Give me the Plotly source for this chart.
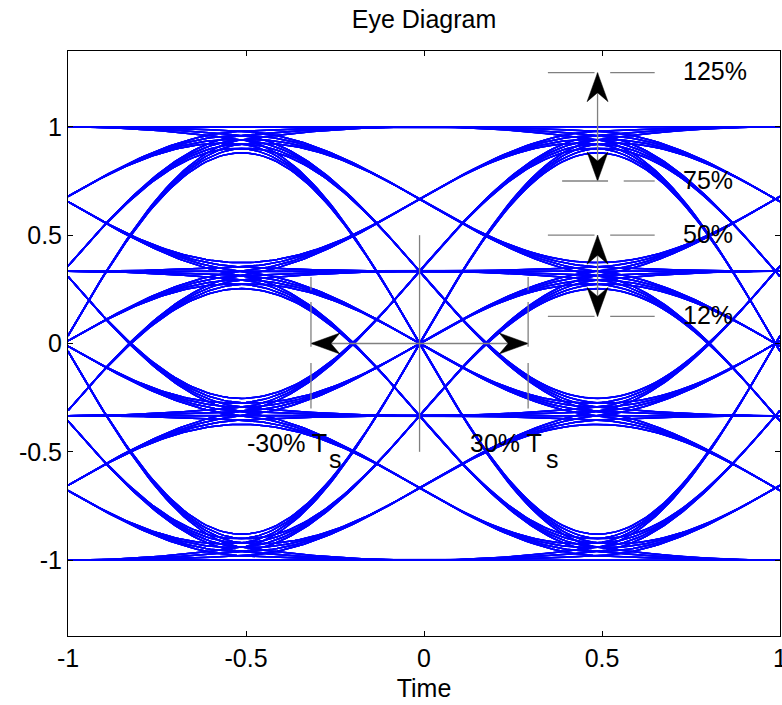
import itertools
import numpy as np
import plotly.graph_objects as go

# ---------------- data ----------------
levels = [-1.0, -1.0 / 3.0, 1.0 / 3.0, 1.0]          # 4-PAM symbol levels
symbol_offsets = [-1.5, -0.5, 0.5, 1.5]              # symbols that shape one 2-symbol trace
timing_offset = -0.0125                              # eye centre (crossing) position
isi_mix = 0.24                                       # share of the wider (ISI) pulse
x_tick_vals = [-1, -0.5, 0, 0.5, 1]
x_tick_text = ["-1", "-0.5", "0", "0.5", "1"]
y_tick_vals = [-1, -0.5, 0, 0.5, 1]
y_tick_text = ["-1", "-0.5", "0", "0.5", "1"]
level_marks = [1.25, 0.75, 0.5, 0.125]
level_texts = ["125%", "75%", "50%", "12%"]


def pulse(t):
    t = np.abs(t)
    c = np.where(t <= 1, 0.5 * (1 + np.cos(np.pi * np.minimum(t, 1))), 0.0)
    b = np.where(t <= 0.5, 0.75 - t ** 2, np.where(t <= 1.5, 0.5 * (1.5 - t) ** 2, 0.0))
    return (1 - isi_mix) * c + isi_mix * b


tau = np.linspace(-1, 1, 161)
xs, ys = [], []
for combo in itertools.product(levels, repeat=len(symbol_offsets)):
    s = np.zeros_like(tau)
    for a, off in zip(combo, symbol_offsets):
        s += a * pulse(tau - (timing_offset + off))
    xs.extend(tau.tolist() + [None])
    ys.extend(s.tolist() + [None])

fig = go.Figure()
fig.add_trace(go.Scatter(x=xs, y=ys, mode="lines",
                         line=dict(color="#0000FF", width=1.5),
                         hoverinfo="skip", showlegend=False))

# ---------------- layout geometry ----------------
W, H = 782, 705
ML, MR, MT, MB = 68, 2, 51, 69
YR = [-1.35, 1.35]
sx = (W - ML - MR) / 2.0
sy = (H - MT - MB) / (YR[1] - YR[0])

GRAY = "#808080"
shapes = []


def seg(x0, y0, x1, y1, w=1.3):
    shapes.append(dict(type="line", xref="x", yref="y", x0=x0, y0=y0, x1=x1, y1=y1,
                       line=dict(color=GRAY, width=w)))


def head(xt, yt, dx, dy, L=29, Wd=10.5, N=9):
    # dx, dy: unit direction in pixel space (dy positive = up)
    nx, ny = -dy, dx
    def P(a, b):
        return (xt + a / sx, yt + b / sy)
    p0 = P(0, 0)
    p1 = P(-L * dx + Wd * nx, -L * dy + Wd * ny)
    p2 = P(-(L - N) * dx, -(L - N) * dy)
    p3 = P(-L * dx - Wd * nx, -L * dy - Wd * ny)
    path = "M{} {} L{} {} L{} {} L{} {} Z".format(*p0, *p1, *p2, *p3)
    shapes.append(dict(type="path", xref="x", yref="y", path=path,
                       fillcolor="black", line=dict(color="black", width=0.5)))


c = timing_offset
# central cross
seg(c, -0.5, c, 0.5)
seg(c - 0.305, 0, c + 0.305, 0)
head(c - 0.305, 0, -1, 0)
head(c + 0.305, 0, 1, 0)
# dashed time markers
for sgn in (-1, 1):
    for y0, y1 in [(0.307, 0.246), (0.192, -0.015), (-0.09, -0.30)]:
        seg(c + sgn * 0.305, y0, c + sgn * 0.305, y1)
# vertical level arrows
xa = c + 0.5
seg(xa, 0.75, xa, 1.25)
head(xa, 1.25, 0, 1)
head(xa, 0.75, 0, -1)
seg(xa, 0.125, xa, 0.5)
head(xa, 0.5, 0, 1)
head(xa, 0.125, 0, -1)
# dashed level lines
for lv in level_marks:
    if lv == 0.75:
        parts = [(0.388, 0.517), (0.561, 0.648)]
    else:
        parts = [(0.348, 0.479), (0.523, 0.648)]
    for a, b in parts:
        seg(a, lv, b, lv)

FONT = dict(family="Liberation Sans, Arial, Helvetica, sans-serif", size=25, color="black")
ann = []
for lv, txt in zip(level_marks, level_texts):
    ann.append(dict(x=0.722, y=lv + 0.006, xref="x", yref="y", text=txt, showarrow=False,
                    xanchor="left", yanchor="middle", font=FONT))
ann.append(dict(x=-0.503, y=-0.461, xref="x", yref="y", text="-30% T", showarrow=False,
                xanchor="left", yanchor="middle", font=FONT))
ann.append(dict(x=-0.272, y=-0.533, xref="x", yref="y", text="s", showarrow=False,
                xanchor="left", yanchor="middle", font=FONT))
ann.append(dict(x=0.124, y=-0.461, xref="x", yref="y", text="30% T", showarrow=False,
                xanchor="left", yanchor="middle", font=FONT))
ann.append(dict(x=0.336, y=-0.533, xref="x", yref="y", text="s", showarrow=False,
                xanchor="left", yanchor="middle", font=FONT))

axis_common = dict(showline=True, linecolor="black", linewidth=1, mirror="ticks",
                   ticks="inside", ticklen=5, tickcolor="black", showgrid=False,
                   zeroline=False, tickfont=FONT, ticklabeloverflow="allow")

fig.update_layout(
    width=W, height=H,
    margin=dict(l=ML, r=MR, t=MT, b=MB, autoexpand=False),
    paper_bgcolor="white", plot_bgcolor="white",
    title=dict(text="Eye Diagram", x=0.5, xref="paper", xanchor="center",
               y=1 - 19 / H, yref="container", yanchor="middle", font=FONT),
    xaxis=dict(range=[-1, 1], tickvals=x_tick_vals, ticktext=x_tick_text,
               title=dict(text="Time", font=FONT, standoff=8), **axis_common),
    yaxis=dict(range=YR, tickvals=y_tick_vals, ticktext=y_tick_text, **axis_common),
    shapes=shapes, annotations=ann,
)

fig.write_html("out.html", config={"displayModeBar": False},
               post_script="document.body.style.margin='0px';document.body.style.overflow='hidden';")
